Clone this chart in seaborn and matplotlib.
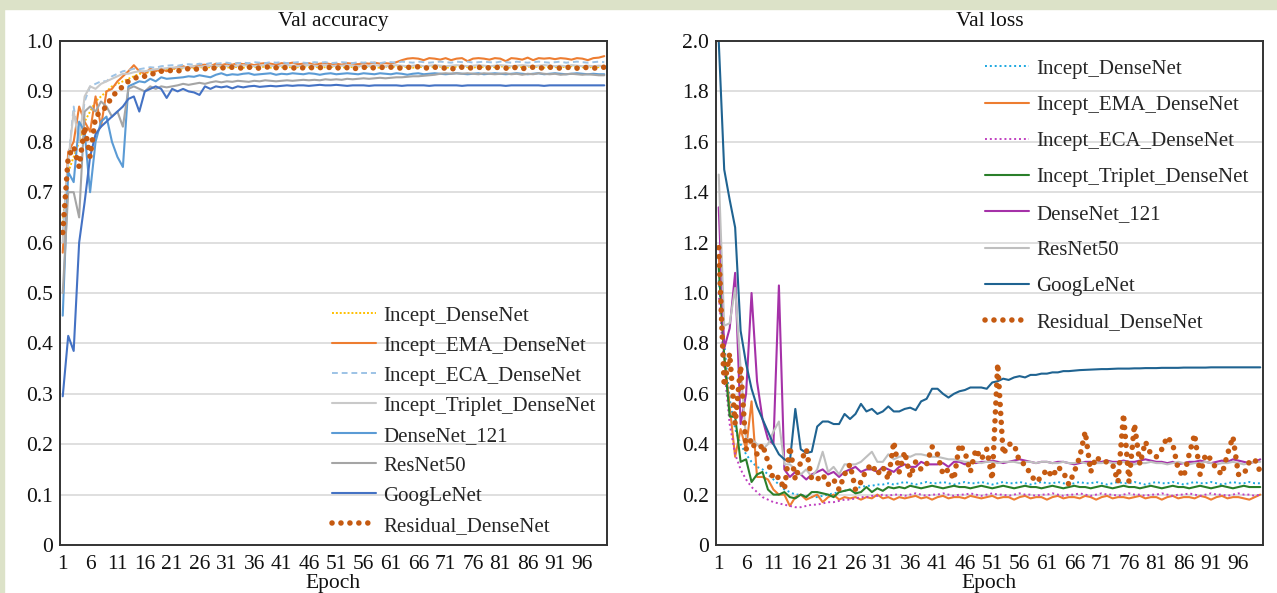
import numpy as np
import matplotlib
matplotlib.use("Agg")
import matplotlib.pyplot as plt
import seaborn as sns
from matplotlib.patches import Rectangle

# ---------------------------
# Data
# ---------------------------
epochs = np.arange(1, 101)
models = ["Incept_DenseNet", "Incept_EMA_DenseNet", "Incept_ECA_DenseNet",
          "Incept_Triplet_DenseNet", "DenseNet_121", "ResNet50", "GoogLeNet",
          "Residual_DenseNet"]

acc_incept = [0.64, 0.74, 0.77, 0.80, 0.84, 0.86, 0.88, 0.89, 0.90, 0.91,
              0.915, 0.92, 0.925, 0.93, 0.935, 0.935, 0.94, 0.94, 0.942, 0.944,
              0.945, 0.944, 0.946, 0.947, 0.946, 0.948, 0.947, 0.948, 0.949, 0.948,
              0.947, 0.949, 0.948, 0.947, 0.949, 0.948, 0.950, 0.948, 0.947, 0.949,
              0.948, 0.949, 0.947, 0.948, 0.950, 0.948, 0.949, 0.947, 0.948, 0.949,
              0.948, 0.947, 0.949, 0.948, 0.950, 0.948, 0.949, 0.948, 0.947, 0.949,
              0.948, 0.950, 0.949, 0.948, 0.947, 0.949, 0.948, 0.950, 0.948, 0.949,
              0.947, 0.948, 0.949, 0.950, 0.948, 0.947, 0.949, 0.948, 0.949, 0.948,
              0.950, 0.948, 0.947, 0.949, 0.948, 0.949, 0.950, 0.948, 0.947, 0.949,
              0.948, 0.949, 0.948, 0.950, 0.949, 0.948, 0.947, 0.949, 0.948, 0.949]
acc_ema = [0.58, 0.78, 0.80, 0.87, 0.84, 0.82, 0.89, 0.83, 0.90, 0.905,
           0.92, 0.93, 0.94, 0.952, 0.94, 0.935, 0.945, 0.94, 0.945, 0.94,
           0.945, 0.948, 0.950, 0.946, 0.950, 0.952, 0.953, 0.950, 0.955, 0.952,
           0.955, 0.953, 0.956, 0.954, 0.955, 0.952, 0.955, 0.956, 0.955, 0.953,
           0.956, 0.955, 0.957, 0.954, 0.955, 0.956, 0.953, 0.955, 0.956, 0.954,
           0.955, 0.953, 0.956, 0.955, 0.954, 0.956, 0.955, 0.957, 0.955, 0.956,
           0.955, 0.958, 0.962, 0.965, 0.966, 0.965, 0.962, 0.966, 0.965, 0.963,
           0.966, 0.962, 0.965, 0.966, 0.960, 0.965, 0.966, 0.965, 0.963, 0.966,
           0.965, 0.960, 0.966, 0.965, 0.963, 0.967, 0.962, 0.966, 0.965, 0.966,
           0.964, 0.966, 0.965, 0.963, 0.966, 0.965, 0.962, 0.966, 0.967, 0.970]
acc_eca = [0.62, 0.76, 0.87, 0.80, 0.88, 0.91, 0.915, 0.92, 0.92, 0.93,
           0.935, 0.94, 0.942, 0.945, 0.944, 0.946, 0.948, 0.947, 0.950, 0.951,
           0.952, 0.951, 0.953, 0.954, 0.953, 0.955, 0.954, 0.956, 0.955, 0.956,
           0.957, 0.955, 0.956, 0.957, 0.956, 0.958, 0.957, 0.956, 0.958, 0.957,
           0.958, 0.956, 0.957, 0.958, 0.957, 0.956, 0.958, 0.957, 0.958, 0.956,
           0.957, 0.958, 0.957, 0.956, 0.958, 0.957, 0.958, 0.957, 0.956, 0.958,
           0.958, 0.957, 0.959, 0.958, 0.957, 0.959, 0.958, 0.957, 0.958, 0.959,
           0.958, 0.957, 0.959, 0.958, 0.959, 0.957, 0.958, 0.959, 0.958, 0.957,
           0.959, 0.958, 0.957, 0.959, 0.958, 0.957, 0.958, 0.959, 0.958, 0.957,
           0.958, 0.959, 0.957, 0.958, 0.959, 0.958, 0.957, 0.958, 0.959, 0.958]
acc_triplet = [0.60, 0.76, 0.86, 0.80, 0.89, 0.91, 0.905, 0.915, 0.92, 0.925,
               0.93, 0.935, 0.935, 0.938, 0.94, 0.94, 0.942, 0.944, 0.945, 0.946,
               0.947, 0.948, 0.947, 0.949, 0.950, 0.949, 0.950, 0.951, 0.950, 0.951,
               0.950, 0.951, 0.950, 0.952, 0.951, 0.950, 0.951, 0.952, 0.951, 0.950,
               0.951, 0.952, 0.951, 0.950, 0.951, 0.952, 0.951, 0.950, 0.952, 0.951,
               0.950, 0.951, 0.952, 0.951, 0.950, 0.951, 0.950, 0.952, 0.951, 0.950,
               0.951, 0.952, 0.951, 0.950, 0.951, 0.952, 0.950, 0.951, 0.952, 0.951,
               0.950, 0.951, 0.952, 0.951, 0.950, 0.951, 0.952, 0.951, 0.950, 0.951,
               0.952, 0.951, 0.950, 0.951, 0.952, 0.951, 0.950, 0.951, 0.952, 0.951,
               0.950, 0.951, 0.950, 0.952, 0.951, 0.950, 0.951, 0.950, 0.951, 0.950]
acc_dense121 = [0.455, 0.74, 0.72, 0.84, 0.82, 0.70, 0.80, 0.84, 0.85, 0.80,
                0.77, 0.75, 0.91, 0.915, 0.92, 0.918, 0.925, 0.92, 0.928, 0.925,
                0.926, 0.927, 0.928, 0.930, 0.929, 0.932, 0.930, 0.928, 0.933, 0.936,
                0.932, 0.934, 0.933, 0.935, 0.936, 0.933, 0.934, 0.935, 0.936, 0.933,
                0.935, 0.934, 0.936, 0.935, 0.934, 0.936, 0.935, 0.933, 0.935, 0.936,
                0.934, 0.935, 0.936, 0.935, 0.934, 0.936, 0.935, 0.934, 0.936, 0.935,
                0.934, 0.936, 0.935, 0.933, 0.935, 0.936, 0.934, 0.935, 0.936, 0.935,
                0.934, 0.935, 0.936, 0.935, 0.934, 0.935, 0.936, 0.934, 0.935, 0.936,
                0.935, 0.934, 0.935, 0.936, 0.935, 0.934, 0.935, 0.936, 0.934, 0.935,
                0.936, 0.935, 0.934, 0.935, 0.936, 0.935, 0.934, 0.935, 0.934, 0.934]
acc_resnet = [0.50, 0.70, 0.70, 0.65, 0.86, 0.87, 0.86, 0.88, 0.87, 0.85,
              0.86, 0.83, 0.905, 0.91, 0.905, 0.90, 0.91, 0.905, 0.91, 0.908,
              0.91, 0.912, 0.915, 0.913, 0.915, 0.917, 0.915, 0.918, 0.92, 0.918,
              0.92, 0.919, 0.921, 0.92, 0.919, 0.921, 0.92, 0.922, 0.921, 0.92,
              0.921, 0.922, 0.921, 0.922, 0.923, 0.922, 0.923, 0.922, 0.924, 0.923,
              0.924, 0.923, 0.925, 0.924, 0.925, 0.926, 0.925, 0.926, 0.927, 0.926,
              0.927, 0.928, 0.928, 0.929, 0.93, 0.93, 0.931, 0.932, 0.933, 0.935,
              0.936, 0.935, 0.936, 0.935, 0.936, 0.935, 0.934, 0.936, 0.935, 0.934,
              0.935, 0.936, 0.934, 0.935, 0.933, 0.935, 0.934, 0.936, 0.935, 0.934,
              0.935, 0.933, 0.934, 0.935, 0.934, 0.933, 0.934, 0.933, 0.932, 0.932]
acc_google = [0.295, 0.415, 0.385, 0.60, 0.68, 0.77, 0.815, 0.83, 0.84, 0.85,
              0.86, 0.87, 0.885, 0.89, 0.86, 0.90, 0.905, 0.91, 0.905, 0.887,
              0.905, 0.90, 0.905, 0.90, 0.898, 0.893, 0.91, 0.905, 0.91, 0.908,
              0.91, 0.906, 0.91, 0.908, 0.91, 0.911, 0.909, 0.91, 0.911, 0.91,
              0.911, 0.912, 0.911, 0.912, 0.912, 0.911, 0.912, 0.913, 0.912, 0.912,
              0.913, 0.912, 0.911, 0.912, 0.912, 0.912, 0.911, 0.912, 0.912, 0.912,
              0.912, 0.912, 0.911, 0.912, 0.912, 0.912, 0.912, 0.911, 0.912, 0.912,
              0.912, 0.912, 0.912, 0.911, 0.912, 0.912, 0.912, 0.912, 0.912, 0.912,
              0.912, 0.911, 0.912, 0.912, 0.912, 0.912, 0.912, 0.912, 0.911, 0.912,
              0.912, 0.912, 0.912, 0.912, 0.912, 0.912, 0.912, 0.912, 0.912, 0.912]
acc_resid = [0.62, 0.77, 0.79, 0.75, 0.83, 0.77, 0.85, 0.86, 0.87, 0.89,
             0.90, 0.91, 0.92, 0.925, 0.93, 0.93, 0.935, 0.935, 0.94, 0.94,
             0.942, 0.94, 0.944, 0.945, 0.943, 0.946, 0.945, 0.947, 0.946, 0.947,
             0.946, 0.948, 0.947, 0.946, 0.948, 0.947, 0.946, 0.948, 0.949, 0.947,
             0.946, 0.948, 0.947, 0.945, 0.947, 0.948, 0.946, 0.947, 0.949, 0.947,
             0.946, 0.948, 0.947, 0.944, 0.947, 0.948, 0.946, 0.947, 0.948, 0.947,
             0.948, 0.947, 0.946, 0.948, 0.947, 0.949, 0.947, 0.946, 0.948, 0.947,
             0.946, 0.944, 0.947, 0.948, 0.946, 0.947, 0.948, 0.946, 0.947, 0.948,
             0.947, 0.946, 0.948, 0.947, 0.945, 0.947, 0.948, 0.946, 0.947, 0.948,
             0.947, 0.946, 0.948, 0.947, 0.946, 0.948, 0.947, 0.946, 0.947, 0.948]

loss_incept = [1.05, 0.80, 0.58, 0.46, 0.40, 0.36, 0.33, 0.31, 0.30, 0.28,
               0.26, 0.24, 0.22, 0.21, 0.20, 0.20, 0.195, 0.19, 0.19, 0.195,
               0.20, 0.205, 0.21, 0.215, 0.22, 0.225, 0.23, 0.235, 0.235, 0.24,
               0.24, 0.245, 0.24, 0.245, 0.25, 0.245, 0.24, 0.245, 0.25, 0.245,
               0.245, 0.25, 0.245, 0.24, 0.245, 0.25, 0.245, 0.245, 0.25, 0.245,
               0.24, 0.245, 0.25, 0.245, 0.245, 0.25, 0.245, 0.24, 0.245, 0.25,
               0.245, 0.245, 0.25, 0.245, 0.24, 0.245, 0.25, 0.245, 0.245, 0.25,
               0.245, 0.24, 0.245, 0.25, 0.245, 0.245, 0.25, 0.245, 0.24, 0.245,
               0.25, 0.245, 0.245, 0.25, 0.245, 0.24, 0.245, 0.25, 0.245, 0.245,
               0.25, 0.245, 0.24, 0.245, 0.25, 0.245, 0.245, 0.25, 0.245, 0.245]
loss_ema = [1.15, 0.75, 0.55, 0.35, 0.46, 0.38, 0.57, 0.27, 0.27, 0.26,
            0.22, 0.20, 0.20, 0.155, 0.19, 0.20, 0.18, 0.19, 0.20, 0.17,
            0.19, 0.20, 0.18, 0.19, 0.185, 0.19, 0.18, 0.19, 0.185, 0.20,
            0.185, 0.19, 0.18, 0.19, 0.185, 0.19, 0.195, 0.185, 0.19, 0.18,
            0.19, 0.195, 0.185, 0.19, 0.19, 0.185, 0.195, 0.19, 0.185, 0.19,
            0.195, 0.185, 0.19, 0.19, 0.18, 0.19, 0.195, 0.185, 0.19, 0.19,
            0.18, 0.19, 0.195, 0.185, 0.19, 0.19, 0.185, 0.195, 0.19, 0.18,
            0.19, 0.195, 0.185, 0.19, 0.19, 0.185, 0.19, 0.195, 0.185, 0.19,
            0.19, 0.18, 0.19, 0.195, 0.185, 0.19, 0.19, 0.185, 0.195, 0.19,
            0.18, 0.19, 0.195, 0.185, 0.19, 0.19, 0.185, 0.18, 0.19, 0.20]
loss_eca = [1.00, 0.70, 0.48, 0.36, 0.30, 0.26, 0.23, 0.21, 0.19, 0.18,
            0.17, 0.165, 0.16, 0.155, 0.15, 0.15, 0.155, 0.16, 0.16, 0.165,
            0.17, 0.17, 0.175, 0.18, 0.18, 0.185, 0.19, 0.19, 0.195, 0.195,
            0.20, 0.195, 0.20, 0.20, 0.195, 0.20, 0.205, 0.20, 0.195, 0.20,
            0.20, 0.205, 0.20, 0.195, 0.20, 0.20, 0.205, 0.20, 0.195, 0.20,
            0.205, 0.20, 0.20, 0.195, 0.20, 0.205, 0.20, 0.20, 0.195, 0.20,
            0.20, 0.205, 0.20, 0.195, 0.20, 0.20, 0.205, 0.20, 0.195, 0.20,
            0.205, 0.20, 0.20, 0.195, 0.20, 0.205, 0.20, 0.20, 0.195, 0.20,
            0.20, 0.205, 0.20, 0.195, 0.20, 0.20, 0.205, 0.20, 0.195, 0.20,
            0.205, 0.20, 0.20, 0.195, 0.20, 0.205, 0.20, 0.20, 0.195, 0.20]
loss_triplet = [1.10, 0.75, 0.51, 0.51, 0.33, 0.34, 0.25, 0.28, 0.29, 0.22,
                0.20, 0.20, 0.21, 0.19, 0.185, 0.20, 0.19, 0.21, 0.21, 0.205,
                0.20, 0.19, 0.21, 0.215, 0.22, 0.205, 0.21, 0.23, 0.21, 0.225,
                0.215, 0.23, 0.225, 0.23, 0.225, 0.235, 0.23, 0.225, 0.23, 0.235,
                0.23, 0.225, 0.23, 0.235, 0.23, 0.23, 0.225, 0.23, 0.235, 0.23,
                0.225, 0.23, 0.235, 0.23, 0.225, 0.23, 0.235, 0.23, 0.23, 0.225,
                0.23, 0.235, 0.23, 0.225, 0.23, 0.235, 0.23, 0.23, 0.225, 0.23,
                0.235, 0.23, 0.225, 0.23, 0.235, 0.23, 0.23, 0.225, 0.23, 0.235,
                0.23, 0.225, 0.23, 0.235, 0.23, 0.23, 0.225, 0.23, 0.235, 0.23,
                0.225, 0.23, 0.235, 0.23, 0.225, 0.23, 0.235, 0.23, 0.23, 0.23]
loss_dense121 = [1.34, 0.78, 0.86, 1.08, 0.48, 0.60, 1.00, 0.65, 0.50, 0.42,
                 0.40, 1.03, 0.30, 0.27, 0.29, 0.28, 0.26, 0.28, 0.29, 0.30,
                 0.28, 0.29, 0.27, 0.29, 0.30, 0.31, 0.29, 0.30, 0.30, 0.29,
                 0.31, 0.30, 0.29, 0.31, 0.32, 0.31, 0.31, 0.33, 0.32, 0.32,
                 0.32, 0.325, 0.31, 0.33, 0.33, 0.32, 0.33, 0.325, 0.33, 0.33,
                 0.335, 0.33, 0.325, 0.33, 0.335, 0.34, 0.335, 0.33, 0.325, 0.33,
                 0.33, 0.325, 0.33, 0.33, 0.325, 0.32, 0.325, 0.33, 0.33, 0.325,
                 0.33, 0.335, 0.33, 0.33, 0.335, 0.33, 0.33, 0.335, 0.34, 0.335,
                 0.33, 0.33, 0.325, 0.33, 0.32, 0.325, 0.33, 0.33, 0.335, 0.33,
                 0.325, 0.33, 0.335, 0.33, 0.34, 0.335, 0.33, 0.325, 0.33, 0.34]
loss_resnet = [1.47, 0.87, 0.88, 1.02, 0.70, 0.42, 0.42, 0.40, 0.38, 0.40,
               0.45, 0.49, 0.32, 0.32, 0.30, 0.28, 0.30, 0.27, 0.30, 0.37,
               0.29, 0.31, 0.28, 0.32, 0.32, 0.32, 0.33, 0.35, 0.37, 0.33,
               0.33, 0.36, 0.34, 0.35, 0.355, 0.35, 0.36, 0.36, 0.355, 0.35,
               0.35, 0.345, 0.34, 0.34, 0.335, 0.33, 0.33, 0.33, 0.325, 0.33,
               0.33, 0.325, 0.33, 0.33, 0.33, 0.325, 0.33, 0.33, 0.325, 0.33,
               0.33, 0.325, 0.325, 0.33, 0.325, 0.325, 0.33, 0.325, 0.32, 0.325,
               0.325, 0.33, 0.325, 0.325, 0.33, 0.325, 0.32, 0.325, 0.325, 0.33,
               0.325, 0.325, 0.32, 0.325, 0.33, 0.325, 0.32, 0.325, 0.325, 0.33,
               0.325, 0.32, 0.325, 0.325, 0.33, 0.325, 0.32, 0.325, 0.33, 0.33]
loss_google = [2.00, 1.49, 1.37, 1.26, 0.85, 0.72, 0.62, 0.55, 0.50, 0.45,
               0.40, 0.36, 0.34, 0.33, 0.54, 0.38, 0.365, 0.37, 0.47, 0.49,
               0.49, 0.48, 0.48, 0.52, 0.50, 0.52, 0.56, 0.53, 0.54, 0.52,
               0.53, 0.55, 0.53, 0.53, 0.54, 0.545, 0.535, 0.57, 0.58, 0.62,
               0.62, 0.60, 0.585, 0.60, 0.61, 0.615, 0.625, 0.625, 0.625, 0.62,
               0.645, 0.65, 0.66, 0.655, 0.665, 0.67, 0.665, 0.675, 0.675, 0.68,
               0.68, 0.685, 0.685, 0.69, 0.69, 0.692, 0.694, 0.695, 0.696, 0.697,
               0.698, 0.698, 0.699, 0.70, 0.70, 0.70, 0.701, 0.701, 0.702, 0.702,
               0.702, 0.703, 0.703, 0.703, 0.703, 0.704, 0.704, 0.704, 0.704, 0.704,
               0.705, 0.705, 0.705, 0.705, 0.705, 0.705, 0.705, 0.705, 0.705, 0.705]
loss_resid = [1.18, 0.63, 0.76, 0.48, 0.71, 0.38, 0.42, 0.36, 0.40, 0.33,
              0.26, 0.27, 0.22, 0.39, 0.26, 0.33, 0.38, 0.26, 0.26, 0.28,
              0.24, 0.26, 0.22, 0.28, 0.32, 0.22, 0.25, 0.30, 0.32, 0.28,
              0.31, 0.26, 0.41, 0.29, 0.37, 0.27, 0.33, 0.30, 0.32, 0.39,
              0.36, 0.28, 0.30, 0.26, 0.40, 0.37, 0.29, 0.38, 0.34, 0.38,
              0.26, 0.72, 0.36, 0.40, 0.40, 0.33, 0.32, 0.28, 0.25, 0.27,
              0.30, 0.27, 0.31, 0.29, 0.24, 0.29, 0.35, 0.45, 0.29, 0.35,
              0.33, 0.33, 0.32, 0.25, 0.52, 0.25, 0.48, 0.32, 0.41, 0.36,
              0.35, 0.38, 0.43, 0.40, 0.30, 0.27, 0.36, 0.44, 0.28, 0.36,
              0.34, 0.30, 0.28, 0.36, 0.43, 0.28, 0.28, 0.33, 0.34, 0.29]

acc_ticks = [0, 0.1, 0.2, 0.3, 0.4, 0.5, 0.6, 0.7, 0.8, 0.9, 1.0]
acc_tick_labels = ["0", "0.1", "0.2", "0.3", "0.4", "0.5", "0.6", "0.7", "0.8", "0.9", "1.0"]
loss_ticks = [0, 0.2, 0.4, 0.6, 0.8, 1.0, 1.2, 1.4, 1.6, 1.8, 2.0]
loss_tick_labels = ["0", "0.2", "0.4", "0.6", "0.8", "1.0", "1.2", "1.4", "1.6", "1.8", "2.0"]
epoch_ticks = list(range(1, 100, 5))

# ---------------------------
# Styles
# ---------------------------
DOT = (0, (0.01, 1.6))
acc_styles = [
    dict(color="#ffc000", linestyle=(0, (1, 1)), linewidth=1.4),
    dict(color="#ed7d31", linestyle="-", linewidth=1.5),
    dict(color="#9dc3e6", linestyle=(0, (3, 2)), linewidth=1.4),
    dict(color="#c9c9c9", linestyle="-", linewidth=1.5),
    dict(color="#5b9bd5", linestyle="-", linewidth=1.5),
    dict(color="#a5a5a5", linestyle="-", linewidth=1.5),
    dict(color="#4472c4", linestyle="-", linewidth=1.5),
    dict(color="#c55a11", linestyle=DOT, linewidth=4.0, dash_capstyle="round"),
]
loss_styles = [
    dict(color="#1aa7e0", linestyle=(0, (1, 1.5)), linewidth=1.4),
    dict(color="#ed7d31", linestyle="-", linewidth=1.5),
    dict(color="#c040c0", linestyle=(0, (1, 1.5)), linewidth=1.4),
    dict(color="#2a7f2a", linestyle="-", linewidth=1.5),
    dict(color="#a531a8", linestyle="-", linewidth=1.5),
    dict(color="#bfbfbf", linestyle="-", linewidth=1.5),
    dict(color="#1f6391", linestyle="-", linewidth=1.5),
    dict(color="#c55a11", linestyle=DOT, linewidth=4.0, dash_capstyle="round"),
]

acc_series = [acc_incept, acc_ema, acc_eca, acc_triplet, acc_dense121,
              acc_resnet, acc_google, acc_resid]
loss_series = [loss_incept, loss_ema, loss_eca, loss_triplet, loss_dense121,
               loss_resnet, loss_google, loss_resid]

sns.set_theme(style="white")
plt.rcParams['font.family'] = ['Liberation Serif', 'DejaVu Serif']

fig = plt.figure(figsize=(12.77, 5.93), dpi=100)
fig.patch.set_facecolor("white")
# greenish page border at top and left
fig.patches.append(Rectangle((0, 1 - 9 / 593), 1, 9 / 593, transform=fig.transFigure,
                             color="#dce2c8", zorder=0))
fig.patches.append(Rectangle((0, 0), 4 / 1277, 1, transform=fig.transFigure,
                             color="#dce2c8", zorder=0))

ax1 = fig.add_axes([60 / 1277, 48 / 593, 547 / 1277, 504 / 593])
ax2 = fig.add_axes([716 / 1277, 48 / 593, 547 / 1277, 504 / 593])


def draw_panel(ax, series, styles, title, yticks, ylabels, ymax, leg_anchor, leg_spacing):
    for name, vals, st in zip(models, series, styles):
        sns.lineplot(x=epochs, y=vals, ax=ax, label=name, **st)
    ax.set_xlim(0.5, 100.5)
    ax.set_ylim(0, ymax)
    ax.set_xticks(epoch_ticks)
    ax.set_xticklabels([str(t) for t in epoch_ticks])
    ax.set_yticks(yticks)
    ax.set_yticklabels(ylabels)
    ax.tick_params(axis="both", length=0, labelsize=15.5, colors="#111111")
    ax.tick_params(axis="y", pad=5)
    ax.tick_params(axis="x", pad=7)
    ax.grid(axis="y", color="#dcdcdc", linewidth=1.3)
    ax.grid(axis="x", visible=False)
    ax.set_axisbelow(True)
    for sp in ax.spines.values():
        sp.set_visible(True)
        sp.set_color("#333333")
        sp.set_linewidth(1.4)
    ax.set_title(title, fontsize=15.5, pad=11, color="#111111")
    ax.set_xlabel("Epoch", fontsize=15.5, labelpad=0, color="#111111")
    ax.set_ylabel("")
    ax.legend(loc="upper left", bbox_to_anchor=leg_anchor, frameon=False, fontsize=15,
              handlelength=2.1, handletextpad=0.35, labelspacing=leg_spacing,
              borderpad=0, borderaxespad=0)


draw_panel(ax1, acc_series, acc_styles, "Val accuracy", acc_ticks, acc_tick_labels,
           1.0, (0.497, 0.474), 0.5)
draw_panel(ax2, loss_series, loss_styles, "Val loss", loss_ticks, loss_tick_labels,
           2.0, (0.492, 0.964), 0.8)

fig.savefig("out.png", dpi=100)
plt.close(fig)
